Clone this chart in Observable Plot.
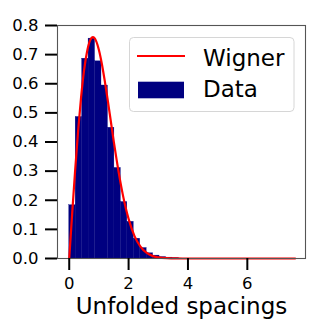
<!DOCTYPE html>
<html><head><meta charset="utf-8">
<script src="https://cdn.jsdelivr.net/npm/d3@7"></script>
<script src="https://cdn.jsdelivr.net/npm/@observablehq/plot@0.6"></script>
<style>body{margin:0;background:#fff} #chart{width:332px;height:332px}</style>
</head><body><div id="chart"></div>
<script>
// Histogram bins (left edge, right edge) and density heights
const binLeft  = [0, 0.217, 0.435, 0.652, 0.870, 1.087, 1.304, 1.522, 1.739, 1.957, 2.174, 2.391, 2.609, 2.826, 3.043, 3.261, 3.478];
const binRight = [0.217, 0.435, 0.652, 0.870, 1.087, 1.304, 1.522, 1.739, 1.957, 2.174, 2.391, 2.609, 2.826, 3.043, 3.261, 3.478, 3.696];
const density  = [0.183, 0.486, 0.686, 0.755, 0.677, 0.594, 0.449, 0.311, 0.194, 0.126, 0.068, 0.036, 0.018, 0.010, 0.005, 0.003, 0.001];

// Wigner curve, points
const curveS = [0, 0.1, 0.2, 0.3, 0.4, 0.5, 0.6, 0.7, 0.8, 0.9, 1.0, 1.1, 1.2, 1.3, 1.4, 1.5, 1.6, 1.7, 1.8, 1.9, 2.0, 2.2, 2.4, 2.6, 2.8, 3.0, 3.3, 3.6, 4.0, 5.0, 6.0, 7.61];
const curveP = [0, 0.156, 0.304, 0.439, 0.554, 0.646, 0.710, 0.748, 0.760, 0.748, 0.716, 0.668, 0.608, 0.542, 0.472, 0.402, 0.337, 0.276, 0.222, 0.175, 0.136, 0.077, 0.041, 0.020, 0.009, 0.004, 0.001, 0.0002, 0, 0, 0, 0];

const xTicks = [0, 2, 4, 6];
const yTicks = [0, 0.1, 0.2, 0.3, 0.4, 0.5, 0.6, 0.7, 0.8];
const xLabel = "Unfolded spacings";
const legendLabels = ["Wigner", "Data"];

const bins = density.map((d, i) => ({x1: binLeft[i], x2: binRight[i], y: d}));
const curve = curveS.map((s, i) => ({s, p: curveP[i]}));

const chart = Plot.plot({
  width: 332, height: 332,
  marginLeft: 57, marginRight: 27, marginTop: 25, marginBottom: 74,
  style: {fontFamily: "DejaVu Sans", background: "#fff", color: "#000"},
  x: {domain: [-0.395, 7.96]},
  y: {domain: [0, 0.8]},
  marks: [
    Plot.rectY(bins, {x1: "x1", x2: "x2", y: "y", fill: "#000080", stroke: "#000080", strokeWidth: 0.3, insetLeft: 0, insetRight: 0}),
    Plot.line(curve, {x: "s", y: "p", stroke: "#ff0000", strokeWidth: 2.2, curve: "monotone-x"}),
    Plot.frame({stroke: "#555", strokeWidth: 1.1}),
    Plot.axisX({ticks: xTicks, tickSize: 12, tickPadding: 7, strokeWidth: 2, fontSize: 16.5, label: null, tickFormat: d => String(d)}),
    Plot.axisY({ticks: yTicks, tickSize: 12, tickPadding: 7, strokeWidth: 2, fontSize: 16.5, label: null, tickFormat: d3.format(".1f")}),
    Plot.text([xLabel], {frameAnchor: "bottom", lineAnchor: "bottom", dy: 55, fontSize: 23, fill: "#000"})
  ]
});

// Legend
const svg = d3.select(chart);
const g = svg.append("g").attr("font-family", "DejaVu Sans").attr("font-size", 23).attr("text-anchor", "start");
g.append("rect").attr("x", 129.5).attr("y", 37.5).attr("width", 164.5).attr("height", 74)
  .attr("rx", 4).attr("fill", "#fff").attr("fill-opacity", 0.8).attr("stroke", "#d6d6d6").attr("stroke-width", 1);
g.append("line").attr("x1", 137).attr("x2", 185).attr("y1", 56).attr("y2", 56)
  .attr("stroke", "#ff0000").attr("stroke-width", 2.2);
g.append("rect").attr("x", 138).attr("y", 81.7).attr("width", 46).attr("height", 16.6).attr("fill", "#000080");
g.append("text").attr("x", 203).attr("y", 65.7).attr("fill", "#000").text(legendLabels[0]);
g.append("text").attr("x", 203).attr("y", 97.3).attr("fill", "#000").text(legendLabels[1]);

document.getElementById("chart").appendChild(chart);
</script>
</body></html>
